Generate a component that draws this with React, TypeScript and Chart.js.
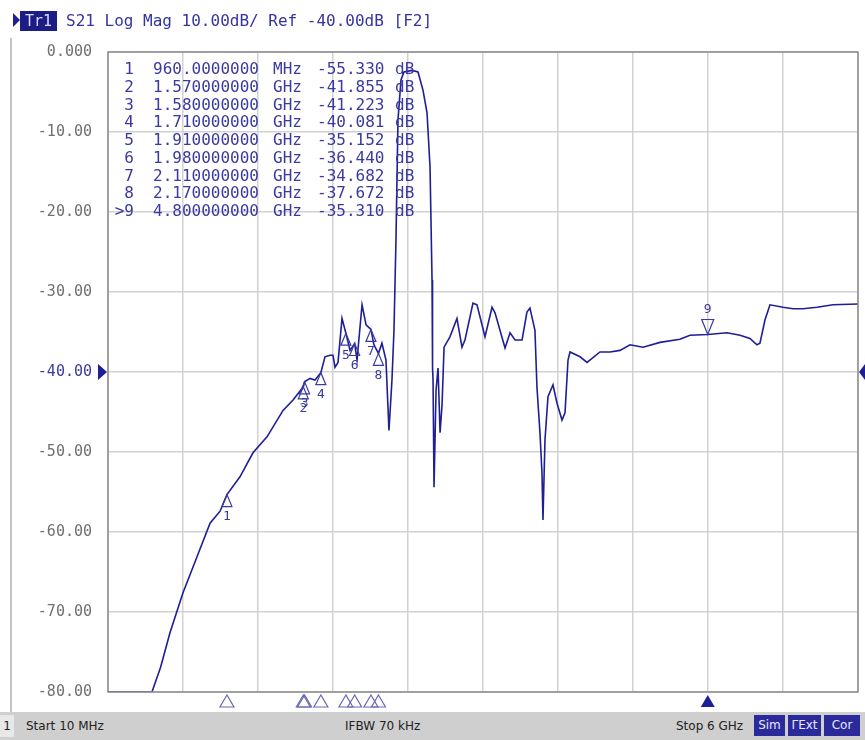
import React, { useEffect, useRef } from "react";
import { Chart, registerables } from "chart.js";

Chart.register(...registerables);

// ---- data ----
const freqGHz = [
  0.01, 0.361, 0.43, 0.505, 0.609, 0.721, 0.825, 0.905, 0.96, 1.064, 1.168, 1.28, 1.408, 1.488,
  1.57, 1.58, 1.623, 1.663, 1.71, 1.743, 1.783, 1.807, 1.823, 1.847, 1.879, 1.91, 1.943, 1.98,
  1.999, 2.039, 2.071, 2.11, 2.134, 2.17, 2.198, 2.23, 2.254, 2.278, 2.294, 2.31, 2.326, 2.35,
  2.374, 2.438, 2.486, 2.526, 2.558, 2.582, 2.598, 2.602, 2.606, 2.614, 2.63, 2.646, 2.662, 2.678,
  2.694, 2.741, 2.797, 2.837, 2.861, 2.925, 2.957, 3.021, 3.077, 3.101, 3.181, 3.221, 3.261, 3.317,
  3.356, 3.38, 3.42, 3.436, 3.46, 3.476, 3.484, 3.5, 3.524, 3.564, 3.596, 3.636, 3.66, 3.684, 3.7,
  3.78, 3.836, 3.939, 4.019, 4.099, 4.179, 4.283, 4.419, 4.578, 4.658, 4.8, 4.954, 5.058, 5.137,
  5.193, 5.217, 5.257, 5.297, 5.401, 5.481, 5.561, 5.673, 5.8, 6.0,
];
const s21dB = [
  -80, -80, -76.9, -72.6, -67.6, -63.1, -58.9, -57.4, -55.33, -53.1, -50.1, -48.1, -44.8, -43.5,
  -41.855, -41.223, -40.8, -41.0, -40.081, -38.1, -37.9, -37.9, -39.4, -38.8, -33.3, -35.152, -37.3, -36.44,
  -38.5, -31.6, -34.1, -34.682, -36.6, -37.672, -36.4, -38.5, -47.3, -41.0, -34.8, -23.5, -8.5, -3.5,
  -2.5, -2.3, -2.5, -4.8, -7.6, -14.4, -28.5, -39.5, -41.0, -54.4, -42.3, -39.5, -47.6, -44.1,
  -36.9, -35.6, -33.3, -36.9, -36.0, -31.4, -31.6, -35.6, -31.9, -32.6, -37.0, -35.1, -36.0, -36.0,
  -32.5, -32.0, -34.8, -41.9, -47.6, -52.6, -58.5, -48.5, -43.1, -41.6, -43.9, -46.0, -45.1, -38.5, -37.5,
  -38.1, -38.8, -37.5, -37.5, -37.3, -36.6, -36.9, -36.3, -35.9, -35.4, -35.31, -35.1, -35.4, -35.8,
  -36.6, -36.4, -33.5, -31.6, -31.9, -32.1, -32.1, -31.9, -31.6, -31.5,
];

const markerNums = [1, 2, 3, 4, 5, 6, 7, 8, 9];
const markerFreqGHz = [0.96, 1.57, 1.58, 1.71, 1.91, 1.98, 2.11, 2.17, 4.8];
const markerFreqText = [
  "960.0000000", "1.570000000", "1.580000000", "1.710000000", "1.910000000",
  "1.980000000", "2.110000000", "2.170000000", "4.800000000",
];
const markerUnit = ["MHz", "GHz", "GHz", "GHz", "GHz", "GHz", "GHz", "GHz", "GHz"];
const markerDB = [-55.33, -41.855, -41.223, -40.081, -35.152, -36.44, -34.682, -37.672, -35.31];
const activeMarker = 9;

const yMin = -80;
const yMax = 0;
const yStep = 10;
const refLevel = -40;
const xStartGHz = 0.01;
const xStopGHz = 6;
const xDivisions = 10;

const headerText = "S21 Log Mag 10.00dB/ Ref -40.00dB [F2]";
const traceLabel = "Tr1";
const statusStart = "Start 10 MHz";
const statusIFBW = "IFBW 70 kHz";
const statusStop = "Stop 6 GHz";
const statusFlags = ["Sim", "\u0393Ext", "Cor"];

const TRACE = "#1e1e96";
const MARK = "#3a3aa0";
const MONO = '"DejaVu Sans Mono", monospace';

const overlayPlugin = {
  id: "vnaOverlay",
  afterDatasetsDraw(chart: any) {
    const { ctx, chartArea: a, scales } = chart;
    const xs = scales.x;
    const ys = scales.y;
    ctx.save();
    // frame
    ctx.strokeStyle = "#8c8c8c";
    ctx.lineWidth = 1.5;
    ctx.strokeRect(a.left, a.top, a.right - a.left, a.bottom - a.top);

    // marker table
    ctx.fillStyle = MARK;
    ctx.font = `16px ${MONO}`;
    ctx.textBaseline = "middle";
    markerNums.forEach((n, i) => {
      const y = a.top + 18 + i * 17.75;
      ctx.textAlign = "right";
      ctx.fillText(n === activeMarker ? ">" + n : String(n), a.left + 26, y);
      ctx.textAlign = "left";
      ctx.fillText(markerFreqText[i], a.left + 45, y);
      ctx.fillText(markerUnit[i], a.left + 165, y);
      ctx.fillText(markerDB[i].toFixed(3), a.left + 209, y);
      ctx.fillText("dB", a.left + 287, y);
    });

    // markers on trace
    ctx.lineWidth = 1.2;
    ctx.strokeStyle = MARK;
    ctx.font = `13px ${MONO}`;
    ctx.textAlign = "center";
    markerNums.forEach((n, i) => {
      const px = xs.getPixelForValue(markerFreqGHz[i]);
      const py = ys.getPixelForValue(markerDB[i]);
      ctx.beginPath();
      if (n === activeMarker) {
        ctx.moveTo(px, py);
        ctx.lineTo(px - 6, py - 15);
        ctx.lineTo(px + 6, py - 15);
        ctx.closePath();
        ctx.stroke();
        ctx.fillText(String(n), px, py - 25);
      } else {
        ctx.moveTo(px, py);
        ctx.lineTo(px - 5, py + 12);
        ctx.lineTo(px + 5, py + 12);
        ctx.closePath();
        ctx.stroke();
        ctx.fillText(String(n), px, py + 22);
      }
    });

    // bottom stimulus triangles
    markerNums.forEach((n, i) => {
      const px = xs.getPixelForValue(markerFreqGHz[i]);
      const top = a.bottom + 3;
      ctx.beginPath();
      ctx.moveTo(px, top);
      ctx.lineTo(px - 7, top + 12);
      ctx.lineTo(px + 7, top + 12);
      ctx.closePath();
      if (n === activeMarker) {
        ctx.fillStyle = TRACE;
        ctx.fill();
      } else {
        ctx.strokeStyle = "#6a6ab4";
        ctx.stroke();
      }
    });

    // reference level arrows
    const ry = ys.getPixelForValue(refLevel);
    ctx.fillStyle = TRACE;
    ctx.beginPath();
    ctx.moveTo(a.left - 10, ry - 8);
    ctx.lineTo(a.left - 10, ry + 8);
    ctx.lineTo(a.left - 1, ry);
    ctx.closePath();
    ctx.fill();
    ctx.beginPath();
    ctx.moveTo(chart.width, ry - 8);
    ctx.lineTo(chart.width, ry + 8);
    ctx.lineTo(a.right + 1, ry);
    ctx.closePath();
    ctx.fill();
    ctx.restore();
  },
};

export default function App() {
  const ref = useRef<HTMLCanvasElement | null>(null);
  useEffect(() => {
    document.body.style.margin = "0";
    const canvas = ref.current;
    if (!canvas) return;
    const chart = new Chart(canvas, {
      type: "line",
      data: {
        datasets: [
          {
            data: freqGHz.map((f, i) => ({ x: f, y: s21dB[i] })),
            borderColor: TRACE,
            borderWidth: 1.6,
            pointRadius: 0,
            tension: 0,
          },
        ],
      },
      options: {
        responsive: false,
        animation: false,
        devicePixelRatio: 1,
        layout: { padding: { top: 52, bottom: 48, right: 7, left: 0 } },
        plugins: { legend: { display: false }, tooltip: { enabled: false } },
        scales: {
          x: {
            type: "linear",
            min: xStartGHz,
            max: xStopGHz,
            afterBuildTicks: (s: any) => {
              const step = (xStopGHz - xStartGHz) / xDivisions;
              s.ticks = Array.from({ length: xDivisions + 1 }, (_, i) => ({ value: xStartGHz + i * step }));
            },
            afterFit: (s: any) => {
              s.height = 0;
            },
            ticks: { display: false },
            grid: { color: "#d2d2d2", lineWidth: 1.5, drawTicks: false },
            border: { display: false },
          },
          y: {
            min: yMin,
            max: yMax,
            afterFit: (s: any) => {
              s.width = 108;
            },
            ticks: {
              stepSize: yStep,
              padding: 16,
              font: { family: MONO, size: 15 },
              color: (c: any) => (c.tick && c.tick.value === refLevel ? MARK : "#707070"),
              callback: (v: any) => (Number(v) === 0 ? "0.000" : Number(v).toFixed(2)),
            },
            grid: { color: "#d2d2d2", lineWidth: 1.5, drawTicks: false },
            border: { display: false },
          },
        },
      },
      plugins: [overlayPlugin],
    });
    return () => chart.destroy();
  }, []);

  return (
    <div style={{ position: "relative", width: 865, height: 740, background: "#fff", overflow: "hidden" }}>
      <canvas ref={ref} width={865} height={740} style={{ position: "absolute", left: 0, top: 0, display: "block" }} />
      <div style={{ position: "absolute", left: 10, top: 38, width: 2, height: 674, background: "#c4c4c4" }} />
      <div
        style={{
          position: "absolute", left: 13, top: 13, width: 0, height: 0,
          borderTop: "7px solid transparent", borderBottom: "7px solid transparent", borderLeft: "7px solid " + TRACE,
        }}
      />
      <div
        style={{
          position: "absolute", left: 20, top: 11, width: 37, height: 20, background: "#1c1c84",
          color: "#dcdcff", font: `15px ${MONO}`, lineHeight: "20px", textAlign: "center",
        }}
      >
        {traceLabel}
      </div>
      <div style={{ position: "absolute", left: 66, top: 10, color: "#3434a4", font: `16px ${MONO}`, lineHeight: "22px", whiteSpace: "pre" }}>
        {headerText}
      </div>
      <div style={{ position: "absolute", left: 0, top: 712, width: 865, height: 28, background: "#cfcfcf", font: '12px "DejaVu Sans", sans-serif', color: "#222" }}>
        <div style={{ position: "absolute", left: 0, top: 3, width: 14, height: 22, background: "#e8e8e8", textAlign: "center", lineHeight: "22px" }}>1</div>
        <div style={{ position: "absolute", left: 26, top: 3, lineHeight: "22px" }}>{statusStart}</div>
        <div style={{ position: "absolute", left: 345, top: 3, lineHeight: "22px" }}>{statusIFBW}</div>
        <div style={{ position: "absolute", left: 676, top: 3, lineHeight: "22px" }}>{statusStop}</div>
        {statusFlags.map((t, i) => (
          <div
            key={t}
            style={{
              position: "absolute", left: [754, 788, 824][i], top: 3, width: [31, 33, 36][i], height: 21,
              background: "#2a2a9a", color: "#e8e8ff", textAlign: "center", lineHeight: "21px",
            }}
          >
            {t}
          </div>
        ))}
      </div>
    </div>
  );
}
